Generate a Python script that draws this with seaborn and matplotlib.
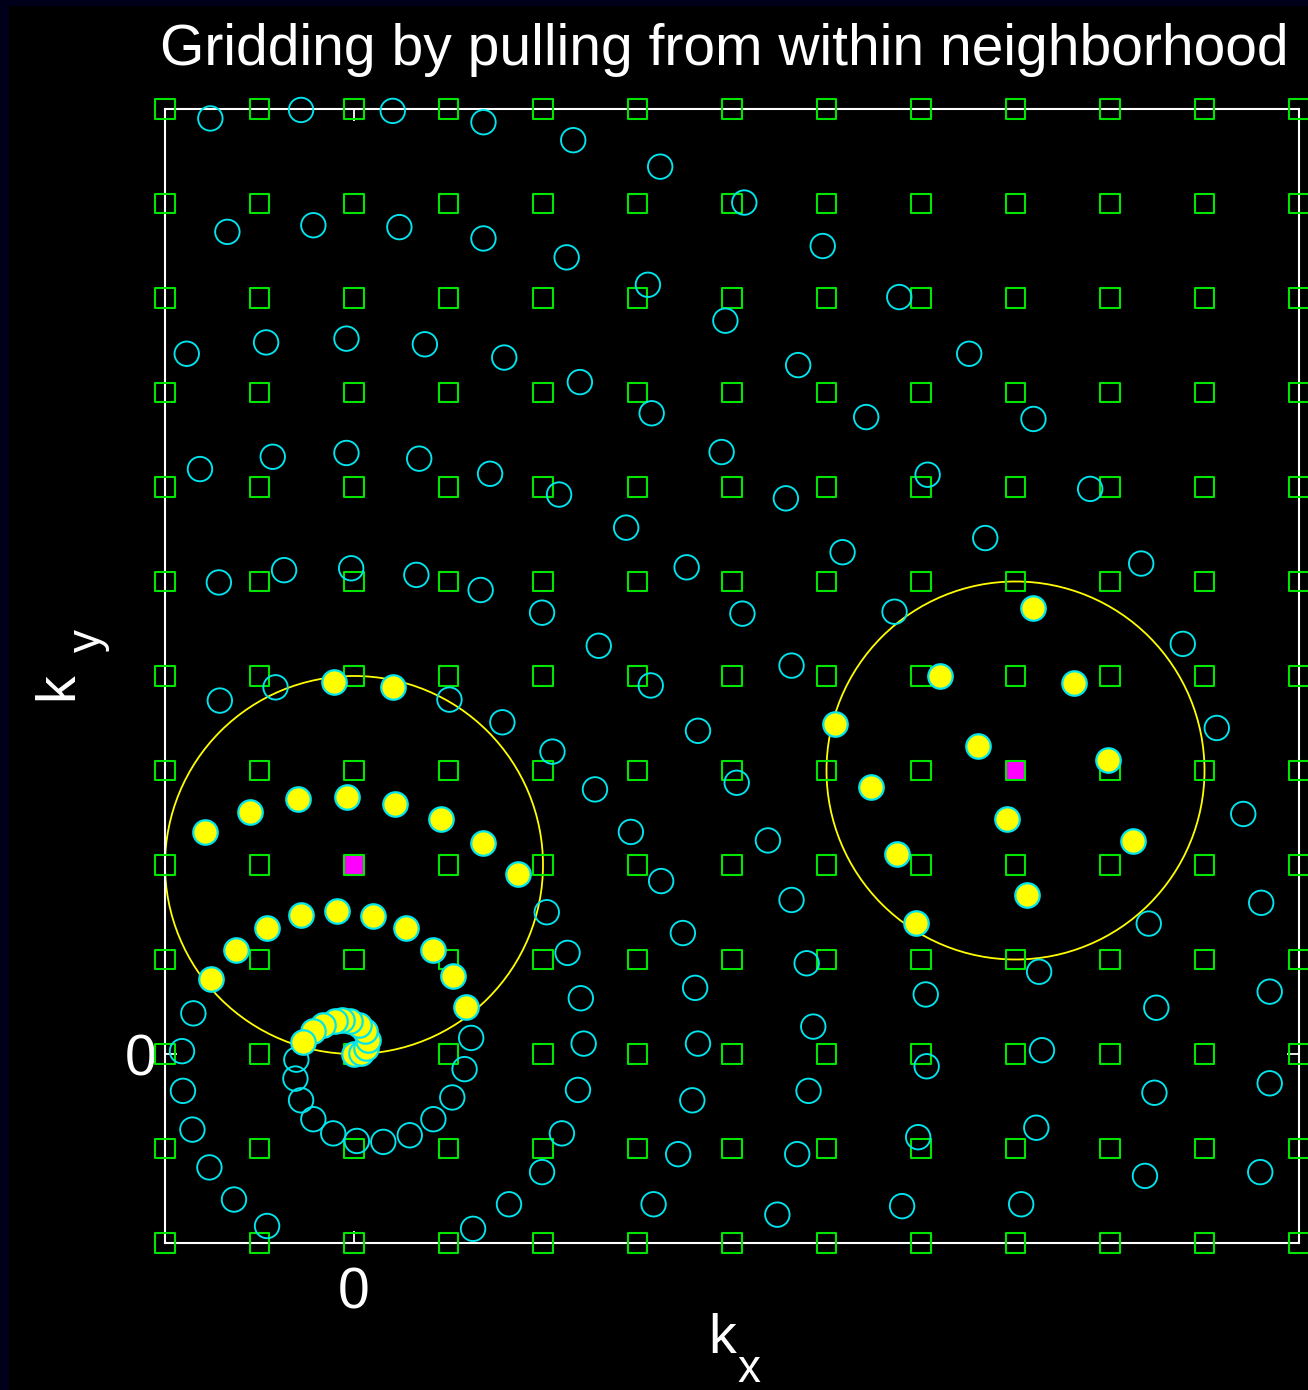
import matplotlib
matplotlib.use("Agg")
import numpy as np
import pandas as pd
import matplotlib.pyplot as plt
from matplotlib.patches import Circle, Rectangle
import seaborn as sns

# ---------------- data ----------------
grid_k = [-2, -1, 0, 1, 2, 3, 4, 5, 6, 7, 8, 9, 10]

# non-Cartesian samples not used by either neighborhood (hollow cyan circles)
sample_kx = [-1.52, -0.56, 0.41, 1.37, 2.32, 3.24, 4.13,
             -1.34, -0.43, 0.48, 1.37, 2.25, 3.11, 3.93, 4.96,
             -1.77, -0.93, -0.08, 0.75, 1.59, 2.39, 3.15, 3.89, 4.70, 5.77, 6.51, 5.42, 7.19,
             -1.63, -0.86, -0.08, 0.69, 1.44, 2.17, 4.57, 6.07, 7.79,
             -1.43, -0.74, -0.03, 0.66, 1.34, 1.99, 2.88, 3.52, 4.11, 2.59, 5.17, 5.72, 6.68, 8.33, 4.63, 3.14,
             -1.42, -0.83, 1.01, 1.57, 2.10, 2.55, 2.93, 3.25, 3.48, 3.61, 3.64, 3.58, 3.43, 3.17,
             3.64, 4.05, 4.38, 4.63, 4.79, 4.86, 4.81, 4.69, 4.48,
             2.04, 2.26, 2.40, 2.43, 2.37, 2.20, 1.99, 1.64, 1.26,
             8.77, 9.13, 9.41, 9.60, 9.69, 9.69, 9.59,
             8.41, 8.49, 8.47, 8.37,
             7.25, 7.28, 7.22, 7.06,
             6.05, 6.06, 5.97, 5.80,
             -0.61, -0.62, -0.56, -0.43, -0.22, 0.03, 0.31, 0.59, 0.84, 1.04, 1.17, 1.24,
             -1.70, -1.82, -1.81, -1.71, -1.53, -1.27, -0.92]
sample_ky = [9.90, 9.99, 9.98, 9.86, 9.67, 9.39, 9.01,
             8.70, 8.77, 8.75, 8.63, 8.43, 8.14, 7.76, 8.55,
             7.41, 7.53, 7.57, 7.51, 7.37, 7.11, 6.78, 6.37, 7.29, 8.01, 7.41, 6.74, 6.72,
             6.19, 6.32, 6.36, 6.30, 6.14, 5.92, 5.88, 6.13, 5.98,
             4.99, 5.12, 5.14, 5.07, 4.91, 4.67, 5.57, 5.15, 4.66, 4.32, 5.31, 4.68, 5.46, 5.19, 4.11, 3.90,
             3.74, 3.88, 3.75, 3.51, 3.20, 2.80, 2.35, 1.83, 1.28, 0.70, 0.11, -0.49, -1.06, -1.59,
             3.42, 2.87, 2.26, 1.63, 0.96, 0.29, -0.39, -1.06, -1.70,
             1.50, 1.07, 0.59, 0.11, -0.38, -0.84, -1.25, -1.59, -1.85,
             4.34, 3.45, 2.54, 1.60, 0.66, -0.31, -1.25,
             1.38, 0.49, -0.41, -1.29,
             0.87, 0.04, -0.78, -1.59,
             0.63, -0.13, -0.88, -1.61,
             -0.06, -0.26, -0.49, -0.69, -0.84, -0.92, -0.93, -0.86, -0.69, -0.46, -0.16, 0.17,
             0.43, 0.03, -0.39, -0.80, -1.20, -1.54, -1.82]

# samples pulled into the neighborhood of grid point (0, 2)
pulled_a_kx = [-0.21, 0.41, -1.58, -1.10, -0.59, -0.07, 0.43, 0.92, 1.37, 1.74,
               1.19, 1.05, 0.84, 0.55, 0.20, -0.18, -0.56, -0.92, -1.25, -1.51,
               0.00, 0.07, 0.13, 0.15, 0.12, 0.05, -0.04, -0.13, -0.20, -0.33, -0.43, -0.54]
pulled_a_ky = [3.94, 3.88, 2.35, 2.56, 2.70, 2.72, 2.65, 2.49, 2.23, 1.90,
               0.50, 0.83, 1.10, 1.33, 1.46, 1.51, 1.47, 1.33, 1.10, 0.79,
               0.00, 0.01, 0.06, 0.15, 0.24, 0.31, 0.35, 0.36, 0.35, 0.31, 0.24, 0.13]

# samples pulled into the neighborhood of grid point (7, 3)
pulled_b_kx = [7.19, 6.20, 7.62, 5.09, 6.60, 7.98, 5.47, 6.91, 8.24, 5.75, 7.12, 5.95]
pulled_b_ky = [4.72, 4.00, 3.93, 3.49, 3.26, 3.11, 2.83, 2.49, 2.25, 2.12, 1.68, 1.39]

center_kx = [0, 7]
center_ky = [2, 3]
neighborhood_radius = 2.0

title_text = "Gridding by pulling from within neighborhood"
tick_values = [0]
tick_labels = ["0"]
xlabel_main, xlabel_sub = "k", "x"
ylabel_main, ylabel_sub = "k", "y"

# ---------------- style ----------------
sns.set_theme(style="ticks", rc={
    "axes.facecolor": "black",
    "figure.facecolor": "#00001a",
    "text.color": "white",
    "axes.labelcolor": "white",
})
plt.rcParams["font.family"] = ["Liberation Sans", "DejaVu Sans"]

W, H = 1308, 1390
fig = plt.figure(figsize=(W / 100, H / 100), dpi=100, facecolor="#00001a")
fig.patches.append(Rectangle((9 / W, 0), 1, 1 - 6 / H, transform=fig.transFigure,
                             facecolor="black", edgecolor="none", zorder=-5))

ax = fig.add_axes([165 / W, 1 - 1243 / H, 1134 / W, 1134 / H])
ax.set_facecolor("black")

GREEN = "#00e600"
CYAN = "#00e5ee"
YELLOW = "#ffff00"
MAGENTA = "#ff00ff"

gx, gy = np.meshgrid(grid_k, grid_k)
grid_df = pd.DataFrame({"kx": gx.ravel(), "ky": gy.ravel()})
samples_df = pd.DataFrame({"kx": sample_kx, "ky": sample_ky})
pulled_df = pd.DataFrame({"kx": pulled_a_kx + pulled_b_kx, "ky": pulled_a_ky + pulled_b_ky})
centers_df = pd.DataFrame({"kx": center_kx, "ky": center_ky})

# neighborhood circles
for cx, cy in zip(center_kx, center_ky):
    ax.add_patch(Circle((cx, cy), neighborhood_radius, fill=False, edgecolor=YELLOW,
                        linewidth=1.3, zorder=2))

# target grid points (magenta filled)
sns.scatterplot(data=centers_df, x="kx", y="ky", marker="s", s=200, color=MAGENTA,
                linewidth=0, ax=ax, clip_on=False, zorder=3, legend=False)
# Cartesian grid (green hollow squares)
sns.scatterplot(data=grid_df, x="kx", y="ky", marker="s", s=192, facecolors="none",
                edgecolor=GREEN, linewidth=1.5, ax=ax, clip_on=False, zorder=4, legend=False)
# samples
sns.scatterplot(data=samples_df, x="kx", y="ky", marker="o", s=310, facecolors="none",
                edgecolor=CYAN, linewidth=1.35, ax=ax, clip_on=False, zorder=5, legend=False)
sns.scatterplot(data=pulled_df, x="kx", y="ky", marker="o", s=310, color=YELLOW,
                edgecolor=CYAN, linewidth=1.6, ax=ax, clip_on=False, zorder=6, legend=False)

ax.set_xlim(-2, 10)
ax.set_ylim(-2, 10)
ax.set_xticks(tick_values)
ax.set_xticklabels(tick_labels)
ax.set_yticks(tick_values)
ax.set_yticklabels(tick_labels)
ax.tick_params(axis="both", which="major", direction="in", length=8.5, width=1.3,
               color="white", labelcolor="white", labelsize=41,
               top=True, right=True, bottom=True, left=True,
               labeltop=False, labelright=False)
ax.tick_params(axis="x", pad=17)
ax.tick_params(axis="y", pad=6)
for sp in ax.spines.values():
    sp.set_visible(True)
    sp.set_color("white")
    sp.set_linewidth(1.5)
ax.set_xlabel("")
ax.set_ylabel("")

# axis labels: k with a dropped subscript
fig.text(708 / W, 1 - 1353 / H, xlabel_main, ha="left", va="baseline",
         rotation_mode="anchor", fontsize=40, color="white")
fig.text(737 / W, 1 - 1382 / H, xlabel_sub, ha="left", va="baseline",
         rotation_mode="anchor", fontsize=33, color="white")
fig.text(72 / W, 1 - 700 / H, ylabel_main, ha="left", va="baseline", rotation=90,
         rotation_mode="anchor", fontsize=40, color="white")
fig.text(100 / W, 1 - 652 / H, ylabel_sub, ha="left", va="baseline", rotation=90,
         rotation_mode="anchor", fontsize=33, color="white")

fig.text(160 / W, 1 - 65 / H, title_text, ha="left", va="baseline",
         fontsize=41, color="white")

fig.savefig("out.png", dpi=100, facecolor=fig.get_facecolor())
